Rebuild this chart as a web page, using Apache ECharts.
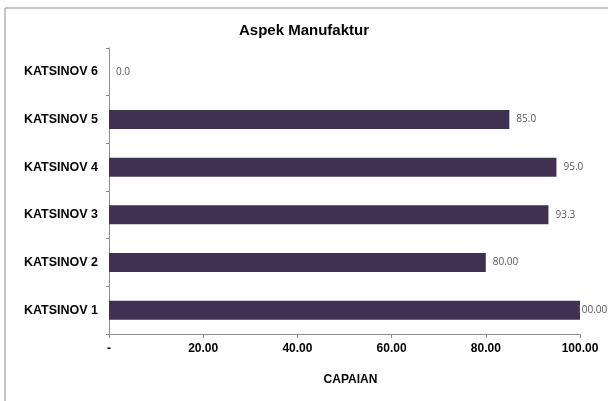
<!DOCTYPE html>
<html><head><meta charset="utf-8">
<script src="https://cdn.jsdelivr.net/npm/echarts@6/dist/echarts.min.js"></script>
<style>html,body{margin:0;padding:0;background:#fff}#c{width:608px;height:401px}</style>
</head><body><div id="c"></div>
<script>
const categories = ['KATSINOV 1','KATSINOV 2','KATSINOV 3','KATSINOV 4','KATSINOV 5','KATSINOV 6'];
const values = [100, 80, 93.3, 95, 85, 0];
const valueLabels = ['100.00','80.00','93.3','95.0','85.0','0.0'];
const xTickLabels = {0:'-',20:'20.00',40:'40.00',60:'60.00',80:'80.00',100:'100.00'};

const chart = echarts.init(document.getElementById('c'), null, {renderer:'canvas'});
chart.setOption({
  animation:false,
  backgroundColor:'#fff',
  graphic:[{type:'rect',shape:{x:5,y:8,width:700,height:500},style:{fill:'none',stroke:'#8c8c8c',lineWidth:1},silent:true,z:-1}],
  title:{text:'Aspek Manufaktur',left:'center',top:18,textStyle:{fontFamily:'Liberation Sans, Arial',fontWeight:'bold',fontSize:15,color:'#000'}},
  grid:{left:109,right:28,top:48,bottom:67},
  xAxis:{type:'value',min:0,max:100,interval:20,
    name:'CAPAIAN',nameLocation:'middle',nameGap:40,
    nameTextStyle:{fontFamily:'Liberation Sans, Arial',fontWeight:'bold',fontSize:12,color:'#000',padding:[0,0,0,12]},
    axisLine:{show:true,lineStyle:{color:'#8c8c8c'}},
    axisTick:{show:true,length:4,lineStyle:{color:'#8c8c8c'}},
    splitLine:{show:false},
    axisLabel:{fontFamily:'Liberation Sans, Arial',fontWeight:'bold',fontSize:12,color:'#000',margin:9,
      formatter:v=>xTickLabels[v]}},
  yAxis:{type:'category',data:categories,
    axisLine:{lineStyle:{color:'#8c8c8c'}},
    axisTick:{show:true,length:3,lineStyle:{color:'#8c8c8c'}},
    axisLabel:{fontFamily:'Liberation Sans, Arial',fontWeight:'bold',fontSize:12.5,color:'#000',margin:11}},
  series:[{type:'bar',barWidth:19,
    data:values.map((v,i)=>i===0?{value:v,label:{distance:-4}}:v),
    itemStyle:{color:'#403152'},
    label:{show:true,position:'right',distance:7,fontFamily:'Open Sans, sans-serif',fontSize:10,color:'#595959',
      formatter:p=>valueLabels[p.dataIndex]}}]
});
</script></body></html>
